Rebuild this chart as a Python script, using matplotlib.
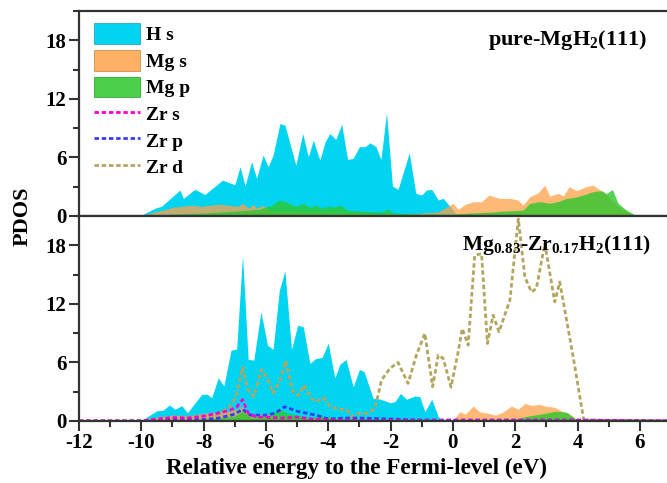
"""
PDOS comparison: pure MgH2(111) vs Zr-doped Mg0.83-Zr0.17H2(111)
"""

import matplotlib.pyplot as plt
from matplotlib.patches import Patch
from matplotlib.lines import Line2D
from matplotlib.ticker import MultipleLocator

# ---- pure-MgH2(111) ----
e_top_hs = [-12, -10.05, -9.56, -9.35, -8.76, -8.65, -8.28, -7.96, -7.39, -7.0, -6.83, -6.67,
            -6.46, -6.3, -6.09, -5.93, -5.77, -5.55, -5.39, -5.04, -4.82, -4.64, -4.48, -4.27,
            -4.1, -3.95, -3.76, -3.57, -3.38, -3.2, -3.0, -2.82, -2.66, -2.47, -2.31, -2.13,
            -1.94, -1.76, -1.4, -1.19, -1.0, -0.85, -0.68, -0.47, -0.31, -0.04, 0.12, 0.3, 7]
top_hs = [0, 0, 0.8, 1.0, 2.66, 1.8, 2.73, 2.2, 3.68, 3.2, 5.05, 3.07,
          5.56, 3.85, 6.24, 5.05, 6.24, 9.47, 9.3, 5.2, 8.45, 6.07, 7.77, 5.72,
          7.6, 8.45, 7.84, 9.4, 5.8, 5.9, 7.1, 7.1, 7.5, 7.1, 5.8, 10.56,
          3.07, 2.73, 6.47, 2.32, 2.15, 2.66, 2.73, 1.64, 1.81, 0.78, 0.1, 0, 0]

e_top_mgs = [-12, -10.0, -9.6, -9.3, -9.0, -8.7, -8.4, -8.1, -7.8, -7.5, -7.2, -6.9, -6.75,
             -6.55, -6.4, -6.3, -6.1, -5.9, -5.5, -5.0, -4.5, -4.0, -3.5, -3.0, -2.5, -2.0,
             -1.5, -1.0, -0.5, -0.2, 0.01, 0.17, 0.4, 0.65, 0.92, 1.16, 1.5, 1.83, 2.09,
             2.25, 2.47, 2.74, 2.95, 3.11, 3.38, 3.54, 3.73, 3.97, 4.27, 4.5, 4.72, 4.9,
             5.1, 5.3, 5.6, 5.9, 7]
top_mgs = [0, 0, 0.4, 0.6, 0.9, 1.0, 1.1, 1.0, 1.1, 1.2, 1.1, 1.0, 1.3,
           0.8, 1.2, 0.8, 1.1, 0.6, 0.5, 0.5, 0.4, 0.4, 0.3, 0.3, 0.2, 0.2,
           0.2, 0.3, 0.4, 0.9, 1.3, 0.68, 1.2, 1.46, 1.46, 2.15, 1.8, 1.8, 1.64,
           1.12, 1.98, 2.38, 3.17, 2.04, 2.32, 2.04, 3.0, 2.59, 3.0, 3.17, 2.66, 2.2,
           1.6, 1.0, 0.4, 0, 0]

e_top_mgp = [-12, -10.0, -9.5, -9.0, -8.5, -8.0, -7.5, -7.0, -6.5, -6.2, -6.0, -5.8, -5.6,
             -5.4, -5.2, -5.0, -4.8, -4.6, -4.4, -4.2, -4.0, -3.8, -3.6, -3.4, -3.0, -2.6,
             -2.3, -2.1, -1.9, -1.5, -1.0, -0.5, 0.0, 0.5, 0.87, 1.2, 1.6, 2.0, 2.25, 2.47,
             2.8, 3.1, 3.4, 3.64, 3.9, 4.18, 4.5, 4.77, 4.93, 5.12, 5.3, 5.57, 5.8, 5.95, 7]
top_mgp = [0, 0, 0.1, 0.2, 0.25, 0.3, 0.4, 0.5, 0.6, 0.7, 0.9, 1.1, 1.6,
           1.5, 1.2, 1.0, 1.3, 0.9, 1.1, 0.8, 1.0, 0.9, 1.1, 0.6, 0.5, 0.45,
           0.4, 0.7, 0.3, 0.25, 0.2, 0.2, 0.2, 0.3, 0.34, 0.4, 0.5, 0.55, 0.6, 1.3,
           1.46, 1.3, 1.5, 1.8, 1.9, 2.15, 2.5, 2.6, 2.3, 2.73, 1.3, 0.6, 0.2, 0, 0]

# ---- Mg0.83-Zr0.17H2(111) ----
e_bot_hs = [-12, -10.0, -9.5, -9.3, -9.1, -8.92, -8.7, -8.52, -8.06, -7.88, -7.74, -7.53,
            -7.35, -7.12, -6.94, -6.75, -6.57, -6.39, -6.16, -5.95, -5.77, -5.57, -5.39,
            -5.18, -4.98, -4.8, -4.59, -4.4, -4.2, -4.0, -3.79, -3.63, -3.43, -3.2, -3.0,
            -2.85, -2.56, -2.34, -2.02, -1.86, -1.68, -1.49, -1.22, -1.06, -0.9, -0.68,
            -0.47, -0.35, 7]
bot_hs = [0, 0.05, 1.05, 1.1, 1.64, 1.2, 1.57, 0.85, 2.73, 2.73, 2.38, 4.43,
          3.58, 7.26, 7.36, 16.97, 6.3, 6.24, 11.18, 7.77, 7.33, 13.4, 15.37,
          7.33, 9.82, 9.64, 5.9, 6.4, 6.5, 7.97, 4.4, 5.8, 6.3, 3.5, 5.28,
          5.05, 2.32, 2.25, 1.87, 1.98, 2.83, 2.22, 2.56, 2.49, 0.95, 2.22,
          0.44, 0, 0]

e_bot_mgs = [-12, -10.0, -9.5, -9.0, -8.5, -8.0, -7.6, -7.2, -6.95, -6.75, -6.55, -6.3,
             -6.0, -5.6, -5.2, -4.8, -4.4, -4.0, -3.5, -3.0, -2.5, -2.0, -1.0, 0.0, 0.22,
             0.4, 0.65, 0.85, 1.1, 1.37, 1.6, 1.88, 2.1, 2.31, 2.52, 2.79, 3.0, 3.27, 3.54,
             3.75, 3.97, 4.1, 7]
bot_mgs = [0, 0, 0.4, 0.6, 0.5, 0.8, 0.9, 1.0, 1.2, 1.5, 0.7, 0.6,
           0.7, 0.5, 0.4, 0.4, 0.3, 0.3, 0.2, 0.2, 0.1, 0.1, 0.05, 0.05, 0.95,
           0.7, 1.53, 0.95, 0.8, 0.6, 0.9, 1.53, 1.2, 1.8, 1.6, 1.7, 1.5, 1.4, 0.95,
           0.7, 0.2, 0, 0]

e_bot_mgp = [-12, -10, -9.0, -8.0, -7.5, -7.0, -6.75, -6.5, -6.0, -5.8, -5.55, -5.3, -5.0,
             -4.6, -4.2, -3.8, -3.4, -3.0, -2.0, -1.0, 0.0, 1.0, 2.0, 2.4, 2.8, 3.3, 3.65,
             3.86, 4.0, 7]
bot_mgp = [0, 0, 0.1, 0.2, 0.3, 0.5, 1.0, 0.4, 0.5, 0.7, 1.2, 0.8, 0.6,
           0.3, 0.5, 0.3, 0.2, 0.2, 0.1, 0.1, 0.05, 0.1, 0.2, 0.5, 0.7, 1.0, 0.9,
           0.4, 0, 0]

e_bot_zrs = [-12, -10, -9.5, -9.0, -8.5, -8.0, -7.54, -7.16, -6.95, -6.75, -6.57, -6.3,
             -6.0, -5.5, -5.0, -4.5, -4.0, -3.0, -2.0, 0, 4, 7]
bot_zrs = [0, 0, 0.2, 0.35, 0.3, 0.5, 0.8, 1.1, 1.4, 2.2, 0.8, 0.4,
           0.4, 0.3, 0.4, 0.2, 0.1, 0.05, 0.05, 0.05, 0.05, 0]

e_bot_zrp = [-12, -10, -9, -8, -7.5, -7.0, -6.75, -6.5, -6.0, -5.7, -5.4, -5.0, -4.7,
             -4.4, -4.0, -3.5, -3.0, -2.0, -1.0, 0, 2, 4, 7]
bot_zrp = [0, 0, 0.1, 0.15, 0.3, 0.7, 1.2, 0.6, 0.6, 0.8, 1.46, 1.0, 0.8,
           0.6, 0.2, 0.3, 0.3, 0.2, 0.1, 0.1, 0.1, 0.1, 0]

e_bot_zrd = [-12, -10, -9.5, -9.0, -8.5, -8.0, -7.6, -7.16, -6.96, -6.75, -6.57, -6.39,
             -6.14, -5.98, -5.77, -5.57, -5.36, -5.15, -4.96, -4.78, -4.54, -4.37, -4.16,
             -3.95, -3.68, -3.41, -3.25, -3.04, -2.72, -2.5, -2.29, -2.02, -1.76, -1.44,
             -1.17, -0.9, -0.65, -0.47, -0.31, -0.06, 0.17, 0.3, 0.49, 0.7, 0.92, 1.11,
             1.29, 1.48, 1.83, 2.1, 2.31, 2.52, 2.68, 2.95, 3.27, 3.43, 3.86, 4.2, 7]
bot_zrd = [0, 0, 0.2, 0.4, 0.4, 0.5, 0.6, 1.46, 2.49, 5.49, 3.17, 2.49,
           5.28, 4.53, 2.83, 4.0, 6.17, 3.07, 2.59, 3.68, 2.28, 1.98, 2.42,
           1.53, 1.2, 1.2, 0.44, 0.78, 0.78, 1.3, 4.19, 5.39, 6.0, 3.85,
           6.75, 8.97, 3.51, 6.75, 6.41, 3.47, 7.09, 9.47, 7.77, 16.97, 17.14, 7.94,
           10.84, 9.13, 12.37, 20.7, 14.75, 13.22, 13.57, 18.17, 12.2, 14.24, 6.58, 0.1, 0]

# colours
c_hs = '#00D4F0'
c_mgs = '#FFA24A'
c_mgp = '#2CC82C'
c_zrs = '#FF00CC'
c_zrp = '#3B3BF0'
c_zrd = '#B3A45E'

plt.rcParams['font.family'] = ['Liberation Serif', 'DejaVu Serif']
plt.rcParams['font.weight'] = 'bold'
plt.rcParams['axes.unicode_minus'] = False
plt.rcParams['mathtext.fontset'] = 'custom'
plt.rcParams['mathtext.rm'] = 'Liberation Serif:bold'
plt.rcParams['mathtext.bf'] = 'Liberation Serif:bold'

fig = plt.figure(figsize=(6.67, 4.83), dpi=100)
ax_top = fig.add_axes([0.1184, 0.5528, 0.8876, 0.4244])
ax_bot = fig.add_axes([0.1184, 0.1284, 0.8876, 0.4244])

dash = (1.6, 1.0)

# top panel fills
ax_top.fill_between(e_top_hs, top_hs, color=c_hs, lw=0)
ax_top.fill_between(e_top_mgs, top_mgs, color=c_mgs, alpha=0.75, lw=0)
ax_top.fill_between(e_top_mgp, top_mgp, color=c_mgp, alpha=0.8, lw=0)

# bottom panel fills and Zr lines
ax_bot.fill_between(e_bot_hs, bot_hs, color=c_hs, lw=0)
ax_bot.fill_between(e_bot_mgs, bot_mgs, color=c_mgs, alpha=0.75, lw=0)
ax_bot.fill_between(e_bot_mgp, bot_mgp, color=c_mgp, alpha=0.8, lw=0)
ax_bot.plot(e_bot_zrd, bot_zrd, color=c_zrd, lw=2, dashes=dash)
ax_bot.plot(e_bot_zrp, bot_zrp, color=c_zrp, lw=2, dashes=dash)
ax_bot.plot(e_bot_zrs, bot_zrs, color=c_zrs, lw=2, dashes=dash)

for ax in (ax_top, ax_bot):
    ax.set_xlim(-12, 7)
    ax.set_ylim(0, 21)
    ax.yaxis.set_major_locator(MultipleLocator(6))
    ax.yaxis.set_minor_locator(MultipleLocator(3))
    ax.xaxis.set_major_locator(MultipleLocator(2))
    ax.xaxis.set_minor_locator(MultipleLocator(1))
    ax.tick_params(which='major', direction='out', length=7, width=1.5,
                   labelsize=15, pad=2, color='#333333')
    ax.tick_params(which='minor', direction='out', length=4, width=1.5, color='#333333')
    for s in ax.spines.values():
        s.set_linewidth(1.6)
        s.set_color('#333333')

ax_top.tick_params(axis='x', which='both', bottom=False, labelbottom=False)

ax_top.text(0.96, 0.86, r'pure-MgH$_{2}$(111)', transform=ax_top.transAxes,
            ha='right', va='center', fontsize=16, fontweight='bold')
ax_bot.text(0.967, 0.86, r'Mg$_{0.83}$-Zr$_{0.17}$H$_{2}$(111)', transform=ax_bot.transAxes,
            ha='right', va='center', fontsize=15.5, fontweight='bold')

handles = [
    Patch(facecolor=c_hs, edgecolor='#2AA7C0', lw=0.6),
    Patch(facecolor=c_mgs, edgecolor='#C8803A', lw=0.6, alpha=0.85),
    Patch(facecolor=c_mgp, edgecolor='#229922', lw=0.6, alpha=0.85),
    Line2D([], [], color=c_zrs, lw=2, dashes=dash),
    Line2D([], [], color=c_zrp, lw=2, dashes=dash),
    Line2D([], [], color=c_zrd, lw=2, dashes=dash),
]
labels = ['H s', 'Mg s', 'Mg p', 'Zr s', 'Zr p', 'Zr d']
ax_top.legend(handles, labels, loc='upper left', bbox_to_anchor=(0.025, 0.94),
              frameon=False, fontsize=14, handlelength=2.4, handleheight=1.25,
              labelspacing=0.3, handletextpad=0.3, borderpad=0, borderaxespad=0)

fig.text(0.034, 0.553, 'PDOS', rotation=90, ha='center', va='center',
         fontsize=16, fontweight='bold')
fig.text(0.534, 0.031, 'Relative energy to the Fermi-level (eV)', ha='center',
         va='center', fontsize=16.6, fontweight='bold')

plt.savefig('out.png', dpi=100)
plt.close()
